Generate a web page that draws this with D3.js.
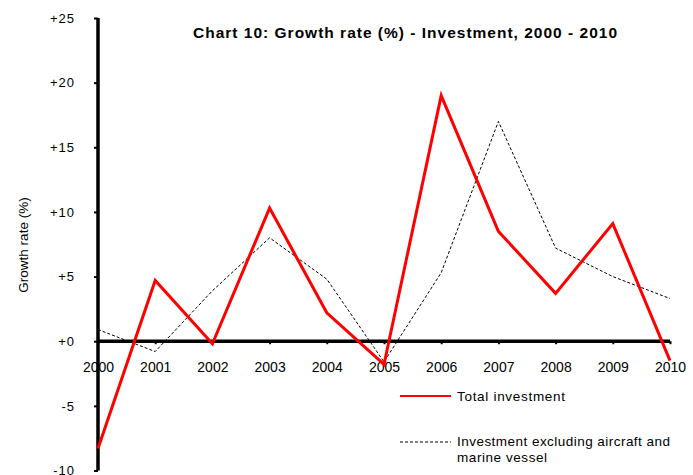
<!DOCTYPE html>
<html>
<head>
<meta charset="utf-8">
<script src="https://cdn.jsdelivr.net/npm/d3@7"></script>
<style>
  html, body { margin: 0; padding: 0; background: #fff; }
  svg { display: block; font-family: "Liberation Sans", Arial, sans-serif; }
</style>
</head>
<body>
<svg id="chart" width="693" height="475"></svg>
<script>
// Annual growth rates of investment, 2000 - 2010 (%)
const years = [2000, 2001, 2002, 2003, 2004, 2005, 2006, 2007, 2008, 2009, 2010];
const totalInvestment = [-8.3, 4.7, -0.2, 10.3, 2.2, -1.8, 19.0, 8.5, 3.7, 9.1, -1.5];
const excludingAircraftVessel = [0.9, -0.8, 3.9, 8.0, 4.8, -1.6, 5.3, 17.0, 7.2, 5.0, 3.3];
const yTicks = [-10, -5, 0, 5, 10, 15, 20, 25];
const titleText = "Chart 10: Growth rate (%) - Investment, 2000 - 2010";
const yAxisTitle = "Growth rate (%)";
const legendLabels = ["Total investment", ["Investment excluding aircraft and", "marine vessel"]];

const svg = d3.select("#chart");
const FONT = "Liberation Sans, Arial, sans-serif";

const x = d3.scaleLinear().domain([2000, 2010]).range([98, 670]);
const y = d3.scaleLinear().domain([-10, 25]).range([470.5, 18]);

const fmt = v => v > 0 ? "+" + v : (v === 0 ? "+0" : String(v));

// Y axis
const yAxis = svg.append("g")
  .attr("transform", `translate(${x(2000)},0)`)
  .call(d3.axisLeft(y).tickValues(yTicks).tickFormat(fmt).tickSize(4).tickPadding(19));
yAxis.select(".domain").attr("stroke", "#000").attr("stroke-width", 3.5)
  .attr("d", `M0,${y(-10)}V${y(25)}`);
yAxis.selectAll(".tick line").attr("stroke", "#000").attr("stroke-width", 2);
yAxis.selectAll(".tick text").attr("font-size", 13).attr("fill", "#000")
  .attr("letter-spacing", 1).attr("font-family", FONT);

// X axis along the zero line
const xAxis = svg.append("g")
  .attr("transform", `translate(0,${y(0)})`)
  .call(d3.axisBottom(x).tickValues(years).tickFormat(d3.format("d")).tickSize(3).tickPadding(18));
xAxis.select(".domain").attr("stroke", "#000").attr("stroke-width", 3.5)
  .attr("d", `M${x(2000)},0H${x(2010)}`);
xAxis.selectAll(".tick line").attr("stroke", "#000").attr("stroke-width", 2);
xAxis.selectAll(".tick text").attr("font-size", 14).attr("fill", "#000")
  .attr("font-family", FONT);

// Series lines
const line = d3.line().x((d, i) => x(years[i])).y(d => y(d));

svg.append("path")
  .datum(excludingAircraftVessel)
  .attr("d", line)
  .attr("fill", "none")
  .attr("stroke", "#000")
  .attr("stroke-width", 1)
  .attr("stroke-dasharray", "3,2");

svg.append("path")
  .datum(totalInvestment)
  .attr("d", line)
  .attr("fill", "none")
  .attr("stroke", "#ff0000")
  .attr("stroke-width", 3)
  .attr("stroke-linejoin", "miter");

// Title
svg.append("text")
  .attr("x", 193).attr("y", 38)
  .attr("font-size", 15.5).attr("font-weight", "bold")
  .attr("textLength", 424).attr("lengthAdjust", "spacing")
  .text(titleText);

// Y axis title
svg.append("text")
  .attr("transform", "translate(28,245) rotate(-90)")
  .attr("text-anchor", "middle")
  .attr("font-size", 13.5)
  .text(yAxisTitle);

// Legend
const legend = svg.append("g");
legend.append("line")
  .attr("x1", 400).attr("x2", 451).attr("y1", 396).attr("y2", 396)
  .attr("stroke", "#ff0000").attr("stroke-width", 2);
legend.append("text")
  .attr("x", 457).attr("y", 401)
  .attr("font-size", 13.5)
  .attr("textLength", 108).attr("lengthAdjust", "spacing")
  .text(legendLabels[0]);

legend.append("line")
  .attr("x1", 400).attr("x2", 451).attr("y1", 442).attr("y2", 442)
  .attr("stroke", "#000").attr("stroke-width", 1).attr("stroke-dasharray", "3,2");
legend.append("text").attr("x", 457).attr("y", 446).attr("font-size", 13.5)
  .attr("textLength", 213).attr("lengthAdjust", "spacing")
  .text(legendLabels[1][0]);
legend.append("text").attr("x", 457).attr("y", 461.5).attr("font-size", 13.5)
  .attr("textLength", 90).attr("lengthAdjust", "spacing")
  .text(legendLabels[1][1]);
</script>
</body>
</html>
